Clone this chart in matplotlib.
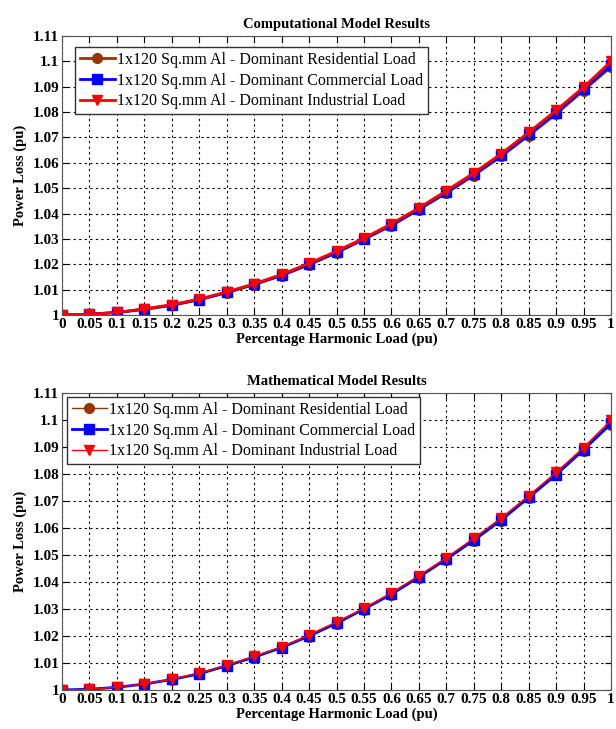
import numpy as np
import matplotlib
matplotlib.use('Agg')
import matplotlib.pyplot as plt

plt.rcParams['font.family'] = ['Liberation Serif', 'DejaVu Serif']

harm = [0, 0.05, 0.1, 0.15, 0.2, 0.25, 0.3, 0.35, 0.4, 0.45, 0.5,
        0.55, 0.6, 0.65, 0.7, 0.75, 0.8, 0.85, 0.9, 0.95, 1.0]

# computational model
comp_res = [1.0, 1.0003, 1.001, 1.0022, 1.0038, 1.006, 1.0088, 1.012, 1.0155, 1.0198, 1.0245,
            1.0298, 1.0352, 1.0415, 1.048, 1.055, 1.0625, 1.0707, 1.0792, 1.0885, 1.0978]
comp_com = [1.0, 1.0003, 1.001, 1.0023, 1.0039, 1.0061, 1.0089, 1.0121, 1.0157, 1.02, 1.0247,
            1.03, 1.0355, 1.0418, 1.0484, 1.0554, 1.0629, 1.0712, 1.0798, 1.089, 1.0985]
comp_ind = [1.0, 1.0003, 1.001, 1.0024, 1.0041, 1.0063, 1.0091, 1.0123, 1.016, 1.0204, 1.0252,
            1.0303, 1.036, 1.0422, 1.049, 1.056, 1.0636, 1.072, 1.0807, 1.0898, 1.1]

# mathematical model
math_res = [1.0, 1.0003, 1.001, 1.0022, 1.0038, 1.006, 1.0088, 1.012, 1.0156, 1.0198, 1.0246,
            1.0298, 1.0352, 1.0416, 1.0482, 1.0552, 1.0627, 1.071, 1.0795, 1.0887, 1.0982]
math_com = [1.0, 1.0003, 1.001, 1.0022, 1.0039, 1.006, 1.009, 1.0122, 1.0157, 1.02, 1.0247,
            1.03, 1.0355, 1.0419, 1.0485, 1.0555, 1.063, 1.0713, 1.0798, 1.089, 1.0988]
math_ind = [1.0, 1.0003, 1.001, 1.0023, 1.004, 1.0063, 1.0092, 1.0125, 1.016, 1.0204, 1.0252,
            1.0303, 1.036, 1.0423, 1.049, 1.0562, 1.0637, 1.072, 1.0806, 1.0898, 1.1]

labels = ['1x120 Sq.mm Al - Dominant Residential Load',
          '1x120 Sq.mm Al - Dominant Commercial Load',
          '1x120 Sq.mm Al - Dominant Industrial Load']
colors = ['#993300', '#0000ff', '#ff0000']
markers = ['o', 's', 'v']

yticks = [1, 1.01, 1.02, 1.03, 1.04, 1.05, 1.06, 1.07, 1.08, 1.09, 1.1, 1.11]

fig = plt.figure(figsize=(6.16, 7.29), dpi=100)
W, H = 616.0, 729.0
AW = 549.0
ax1 = fig.add_axes([62 / W, 1 - 315 / H, AW / W, 279 / H])
ax2 = fig.add_axes([62 / W, 1 - 690 / H, AW / W, 297 / H])


def draw(ax, series, widths, title, loc):
    for s, c, m, lw, lab in zip(series, colors, markers, widths, labels):
        ax.plot(harm, s, color=c, marker=m, markersize=7, linewidth=lw,
                markerfacecolor=c, markeredgecolor=c, label=lab)
    ax.set_xlim(0, 1)
    ax.set_ylim(1, 1.11)
    ax.set_xticks(harm)
    ax.set_xticklabels(['%g' % v for v in harm])
    ax.set_yticks(yticks)
    ax.set_yticklabels(['%g' % v for v in yticks])
    ax.grid(True, color='black', linestyle=(0, (2, 3)), linewidth=0.8)
    ax.tick_params(direction='in', length=4, labelsize=11, pad=2, top=True, right=True)
    for lbl in ax.get_xticklabels() + ax.get_yticklabels():
        lbl.set_fontweight('bold')
    for sp in ax.spines.values():
        sp.set_color('#555555')
    ax.set_title(title, fontsize=10.5, fontweight='bold', pad=6)
    ax.set_xlabel('Percentage Harmonic Load (pu)', fontsize=10.5, fontweight='bold', labelpad=1)
    ax.set_ylabel('Power Loss (pu)', fontsize=10.5, fontweight='bold', labelpad=4)
    leg = ax.legend(loc='upper left', bbox_to_anchor=loc, fontsize=11.5, fancybox=False,
                    handlelength=2.2, handletextpad=0.15, borderpad=0.3, labelspacing=0.3,
                    borderaxespad=0)
    leg.get_frame().set_edgecolor('#333333')
    leg.get_frame().set_linewidth(1.0)
    leg.get_frame().set_alpha(1)


draw(ax1, [comp_res, comp_com, comp_ind], [2, 2, 2], 'Computational Model Results',
     (13 / AW, 1 - 11 / 279))
draw(ax2, [math_res, math_com, math_ind], [1, 2, 1], 'Mathematical Model Results',
     (5 / AW, 1 - 4 / 297))

fig.savefig('out.png', dpi=100)
